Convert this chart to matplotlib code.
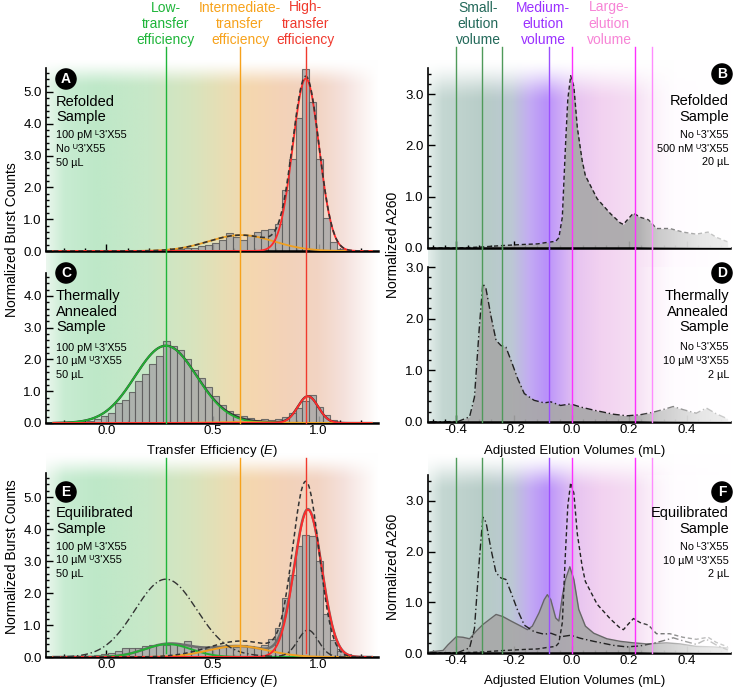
import numpy as np
import matplotlib
matplotlib.use("Agg")
import matplotlib.pyplot as plt
from matplotlib.ticker import MultipleLocator, FormatStrFormatter

plt.rcParams['font.family'] = ['Liberation Sans', 'DejaVu Sans']
plt.rcParams['mathtext.fontset'] = 'custom'
plt.rcParams['mathtext.rm'] = 'Liberation Sans'
plt.rcParams['mathtext.it'] = 'Liberation Sans:italic'
plt.rcParams['mathtext.bf'] = 'Liberation Sans:bold'

W, H = 740, 689

## smFRET histograms (bins of width 0.0328, first left edge -0.1912)
bin_start = -0.1912
bin_width = 0.0328
hist_refolded = [0, 0, 0, 0, 0, 0, 0, 0, 0, 0, 0, 0, 0, 0.02,
                 0.04, 0.05, 0.07, 0.10, 0.10, 0.17, 0.20, 0.25, 0.36, 0.55, 0.44, 0.33, 0.49, 0.60,
                 0.65, 0.70, 0.86, 1.93, 2.90, 4.19, 5.73, 4.68, 2.90, 1.05, 0.28, 0.07, 0.04, 0.0]
hist_annealed = [0.01, 0.02, 0.04, 0.06, 0.12, 0.22, 0.33, 0.62, 0.72, 0.98, 1.32, 1.55, 1.87, 2.12,
                 2.57, 2.42, 2.30, 2.02, 1.68, 1.42, 1.13, 0.84, 0.58, 0.38, 0.28, 0.21, 0.15, 0.10,
                 0.12, 0.10, 0.12, 0.20, 0.32, 0.48, 0.68, 0.88, 0.50, 0.25, 0.08, 0.02, 0.0, 0.0]
hist_equil = [0.0, 0.01, 0.02, 0.04, 0.06, 0.10, 0.14, 0.20, 0.29, 0.29, 0.28, 0.34, 0.36, 0.42,
              0.36, 0.40, 0.38, 0.51, 0.34, 0.31, 0.26, 0.27, 0.31, 0.34, 0.31, 0.36, 0.34, 0.31,
              0.36, 0.57, 0.91, 1.84, 2.55, 3.47, 3.80, 3.78, 3.00, 1.35, 0.52, 0.20, 0.10, 0.03]

## Gaussian fit parameters (center, amplitude, sigma)
fit_refolded = {'orange': (0.635, 0.50, 0.154), 'red': (0.94, 5.42, 0.062)}
fit_annealed = {'green': (0.28, 2.43, 0.145), 'orange': (0.63, 0.03, 0.15), 'red': (0.95, 0.84, 0.048)}
fit_equil = {'green': (0.29, 0.40, 0.11), 'orange': (0.62, 0.34, 0.14), 'red': (0.95, 4.60, 0.065)}

## SEC traces
vol_refolded = [-0.486, -0.394, -0.314, -0.233, -0.164, -0.118, -0.084, -0.055, -0.044, -0.032,
                -0.021, -0.013, -0.003, 0.008, 0.020, 0.037, 0.048, 0.089, 0.135, 0.169, 0.180,
                0.197, 0.215, 0.238, 0.267, 0.295, 0.341, 0.387, 0.433, 0.474, 0.502, 0.542]
a260_refolded = [0.0, 0.0, 0.02, 0.05, 0.07, 0.08, 0.11, 0.13, 0.20, 0.60,
                 2.0, 2.9, 3.36, 3.15, 2.35, 1.70, 1.41, 0.96, 0.67, 0.49, 0.46,
                 0.57, 0.68, 0.60, 0.55, 0.38, 0.38, 0.31, 0.27, 0.31, 0.21, 0.12]
vol_annealed = [-0.492, -0.394, -0.354, -0.337, -0.320, -0.308, -0.297, -0.279, -0.262, -0.245,
                -0.228, -0.210, -0.187, -0.164, -0.130, -0.095, -0.072, -0.038, -0.003, 0.031,
                0.077, 0.146, 0.192, 0.238, 0.284, 0.330, 0.353, 0.387, 0.433, 0.468, 0.502, 0.542]
a260_annealed = [0.0, 0.01, 0.10, 0.48, 1.84, 2.68, 2.58, 2.03, 1.58, 1.48,
                 1.45, 1.19, 0.84, 0.55, 0.42, 0.37, 0.39, 0.32, 0.35, 0.29,
                 0.23, 0.15, 0.12, 0.14, 0.19, 0.26, 0.30, 0.24, 0.17, 0.27, 0.16, 0.06]
vol_equil = [-0.492, -0.446, -0.429, -0.400, -0.377, -0.354, -0.331, -0.308, -0.285, -0.262,
             -0.239, -0.210, -0.176, -0.153, -0.136, -0.113, -0.095, -0.084, -0.072, -0.055,
             -0.044, -0.032, -0.021, -0.006, 0.008, 0.025, 0.048, 0.077, 0.123, 0.169,
             0.215, 0.261, 0.330, 0.376, 0.433, 0.491, 0.542]
a260_equil = [0.02, 0.05, 0.16, 0.32, 0.31, 0.28, 0.43, 0.56, 0.66, 0.76,
              0.72, 0.63, 0.53, 0.46, 0.53, 0.79, 1.05, 1.15, 1.05, 0.69,
              0.63, 1.12, 1.45, 1.70, 1.45, 0.86, 0.53, 0.39, 0.28, 0.23,
              0.20, 0.18, 0.20, 0.18, 0.13, 0.12, 0.10]

## Reference positions
fret_lines = [0.28, 0.63, 0.94]
fret_colors = ['#1fb53a', '#f7a21b', '#f03a2e']
fret_headers = ['Low-\ntransfer\nefficiency', 'Intermediate-\ntransfer\nefficiency', 'High-\ntransfer\nefficiency']
sec_lines = [-0.40, -0.31, -0.24, -0.08, 0.0, 0.22, 0.28]
sec_line_colors = ['#4f9a5a', '#4f9a5a', '#4f9a5a', '#9b50ff', '#ff30ff', '#ff30ff', '#ff8cff']
sec_headers = ['Small-\nelution\nvolume', 'Medium-\nelution\nvolume', 'Large-\nelution\nvolume']
sec_header_colors = ['#23695a', '#9a30ff', '#f784d6']
sec_header_x = [478, 543, 609]

## Background gradients
left_stops = [-0.285, -0.2, -0.05, 0.2, 0.4, 0.55, 0.68, 0.85, 1.0, 1.12, 1.2, 1.28]
left_rgb = [(235, 247, 238), (200, 236, 210), (190, 232, 200), (200, 232, 200), (215, 228, 190),
            (232, 222, 180), (245, 215, 175), (243, 210, 185), (242, 212, 195), (245, 225, 220),
            (250, 240, 238), (255, 255, 255)]
right_stops = [-0.5, -0.45, -0.3, -0.21, -0.15, -0.09, -0.03, 0.02, 0.1, 0.2, 0.28, 0.35, 0.55]
right_rgb = [(228, 238, 235), (196, 215, 210), (183, 204, 199), (188, 200, 212), (195, 172, 242),
             (185, 145, 250), (210, 175, 245), (232, 197, 240), (242, 210, 240), (245, 220, 243),
             (250, 235, 248), (255, 250, 255), (255, 255, 255)]
fade_stops = [-0.5, 0.22, 0.30, 0.45, 0.55]
fade_alpha = [0.0, 0.0, 0.35, 0.7, 0.8]

LXLIM = (-0.285, 1.28)
RXLIM = (-0.5, 0.55)


def gauss(x, c, a, s):
    return a * np.exp(-(x - c) ** 2 / (2 * s ** 2))


def make_axes(x0, x1, ytop, ybot, zorder=1):
    return fig.add_axes([x0 / W, 1 - ybot / H, (x1 - x0) / W, (ybot - ytop) / H], zorder=zorder)


def ftext(px, py, s, **kw):
    fig.text(px / W, 1 - py / H, s, **kw)


def background(x0, x1, ytop, ybot, xlim, stops, rgb, fade_px=30):
    ax = make_axes(x0, x1, ytop, ybot, zorder=0)
    xs = np.linspace(xlim[0], xlim[1], 500)
    cols = np.array([np.interp(xs, stops, [c[i] for c in rgb]) for i in range(3)]).T / 255.0
    ny = 300
    frac = np.linspace(0, 1, ny)
    dist = (1 - frac) * (ybot - ytop)
    alpha = np.clip(dist / fade_px, 0, 1)
    alpha = alpha * alpha * (3 - 2 * alpha)
    img = np.zeros((ny, len(xs), 4))
    img[..., :3] = cols[None, :, :]
    img[..., 3] = alpha[:, None]
    ax.imshow(img, extent=[xlim[0], xlim[1], 0, 1], aspect='auto', origin='lower',
              interpolation='bilinear')
    ax.set_xlim(xlim)
    ax.set_ylim(0, 1)
    ax.axis('off')


def style_axes(ax, xlim, ylim, xmaj, xmin_, show_xlabels):
    ax.set_facecolor('none')
    ax.set_xlim(xlim)
    ax.set_ylim(ylim)
    for side in ['top', 'right']:
        ax.spines[side].set_visible(False)
    ax.spines['left'].set_linewidth(1.2)
    ax.spines['bottom'].set_linewidth(1.8)
    ax.xaxis.set_major_locator(MultipleLocator(xmaj))
    ax.xaxis.set_minor_locator(MultipleLocator(xmin_))
    ax.yaxis.set_major_locator(MultipleLocator(1.0))
    ax.yaxis.set_minor_locator(MultipleLocator(0.2))
    ax.xaxis.set_major_formatter(FormatStrFormatter('%.1f'))
    ax.yaxis.set_major_formatter(FormatStrFormatter('%.1f'))
    ax.tick_params(which='both', direction='in', labelsize=9.5, pad=3, width=1)
    ax.tick_params(axis='x', pad=1.5)
    ax.tick_params(which='major', length=5)
    ax.tick_params(which='minor', length=2.5)
    if not show_xlabels:
        ax.tick_params(axis='x', labelbottom=False)


def vlines(ax, xs, colors, ymin, ymax):
    for x, c in zip(xs, colors):
        ax.axvline(x, ymin=ymin, ymax=ymax, color=c, lw=1.0, clip_on=False, zorder=4)


def hist_panel(ax, heights, fits, total_style):
    centers = bin_start + bin_width * (np.arange(len(heights)) + 0.5)
    ax.bar(centers, heights, width=bin_width, color='#a9a9a9', alpha=0.85,
           edgecolor='#5a5a5a', linewidth=0.8, zorder=2)
    xg = np.linspace(-0.25, 1.25, 800)
    comp_colors = {'green': '#22b033', 'orange': '#f0a020', 'red': '#ff2a2a'}
    total = np.zeros_like(xg)
    for name, (c, a, s) in fits.items():
        total += gauss(xg, c, a, s)
    if total_style == 'solid':
        ax.plot(xg, total, color='#333333', lw=1.6, zorder=2.9)
    for name, (c, a, s) in fits.items():
        ax.plot(xg, gauss(xg, c, a, s), color=comp_colors[name], lw=1.3, zorder=3)
    if total_style == 'dashed':
        ax.plot(xg, total, color='#333333', lw=1.2, ls=(0, (3, 2)), zorder=3.2)


def sec_panel(ax, vol, a260, ls, lcolor='#222222', lw=1.0):
    ax.fill_between(vol, 0, a260, color='#a8a8a8', alpha=0.9, lw=0, zorder=2)
    ax.plot(vol, a260, ls=ls, color=lcolor, lw=lw, zorder=2.3)
    xs = np.linspace(RXLIM[0], RXLIM[1], 400)
    al = np.interp(xs, fade_stops, fade_alpha)
    img = np.ones((2, len(xs), 4))
    img[..., 3] = al[None, :]
    ax.imshow(img, extent=[RXLIM[0], RXLIM[1], 0, ax.get_ylim()[1]], aspect='auto',
              origin='lower', interpolation='bilinear', zorder=2.6)


fig = plt.figure(figsize=(W / 100, H / 100), dpi=100)

# backgrounds
background(46, 378, 58, 423, LXLIM, left_stops, left_rgb, fade_px=30)
background(46, 378, 452, 657, LXLIM, left_stops, left_rgb, fade_px=30)
background(427.5, 730, 58, 422, RXLIM, right_stops, right_rgb, fade_px=45)
background(427.5, 730, 452, 653, RXLIM, right_stops, right_rgb, fade_px=40)

# left column
axA = make_axes(46, 378, 68, 251)
style_axes(axA, LXLIM, (0, 5.75), 0.5, 0.1, False)
hist_panel(axA, hist_refolded, fit_refolded, 'dashed')
vlines(axA, fret_lines, fret_colors, 0, 1 + 21 / 183)

axC = make_axes(46, 378, 273, 423)
style_axes(axC, LXLIM, (0, 4.72), 0.5, 0.1, True)
hist_panel(axC, hist_annealed, fit_annealed, 'solid')
vlines(axC, fret_lines, fret_colors, 0, 1 + 22 / 150)

axE = make_axes(46, 378, 473, 657)
style_axes(axE, LXLIM, (0, 5.75), 0.5, 0.1, True)
xg = np.linspace(-0.25, 1.25, 800)
tot_ref = sum(gauss(xg, *p) for p in fit_refolded.values())
tot_ann = sum(gauss(xg, *p) for p in fit_annealed.values())
tot_eq = sum(gauss(xg, *p) for p in fit_equil.values())
centers = bin_start + bin_width * (np.arange(len(hist_equil)) + 0.5)
axE.bar(centers, hist_equil, width=bin_width, color='#a9a9a9', alpha=0.85,
        edgecolor='#5a5a5a', linewidth=0.8, zorder=2)
axE.plot(xg, tot_eq, color='#6e6e6e', lw=1.8, zorder=3)
for name, col in [('green', '#22b033'), ('orange', '#f0a020'), ('red', '#ff2a2a')]:
    axE.plot(xg, gauss(xg, *fit_equil[name]), color=col, lw=1.4, zorder=3.1)
axE.plot(xg, tot_ref, color='#333333', lw=1.1, ls=(0, (3, 2)), zorder=3.2)
axE.plot(xg, tot_ann, color='#333333', lw=1.0, ls=(0, (5, 2, 1, 2)), zorder=3.2)
vlines(axE, fret_lines, fret_colors, 4 / 184, 1 + 15 / 184)

# right column
axB = make_axes(427.5, 730, 68, 248)
style_axes(axB, RXLIM, (0, 3.51), 0.2, 0.04, False)
sec_panel(axB, vol_refolded, a260_refolded, (0, (3, 2)))
vlines(axB, sec_lines, sec_line_colors, 0, 1 + 21 / 180)

axD = make_axes(427.5, 730, 267, 422)
style_axes(axD, RXLIM, (0, 3.0), 0.2, 0.04, True)
sec_panel(axD, vol_annealed, a260_annealed, (0, (5, 2, 1, 2)))
vlines(axD, sec_lines, sec_line_colors, 0, 1 + 19 / 155)

axF = make_axes(427.5, 730, 475, 653)
style_axes(axF, RXLIM, (0, 3.51), 0.2, 0.04, True)
axF.plot(vol_refolded, a260_refolded, ls=(0, (3, 2)), color='#222222', lw=1.0, zorder=2.4)
axF.plot(vol_annealed, a260_annealed, ls=(0, (5, 2, 1, 2)), color='#222222', lw=1.0, zorder=2.4)
sec_panel(axF, vol_equil, a260_equil, '-', lcolor='#666666', lw=1.0)
vlines(axF, sec_lines, sec_line_colors, 0, 1 + 17 / 178)

# headers
for x, s, c in zip(fret_lines, fret_headers, fret_colors):
    px = 106.7 + 211.6 * x
    ftext(px, 0.5, s, color=c, ha='center', va='top', size=10, linespacing=1.2)
for px, s, c in zip(sec_header_x, sec_headers, sec_header_colors):
    ftext(px, 0.5, s, color=c, ha='center', va='top', size=10, linespacing=1.2)

# axis labels
ftext(12, 240, 'Normalized Burst Counts', rotation=90, ha='center', va='center', size=10)
ftext(12, 557, 'Normalized Burst Counts', rotation=90, ha='center', va='center', size=10)
ftext(393, 245, 'Normalized A260', rotation=90, ha='center', va='center', size=10)
ftext(393, 567, 'Normalized A260', rotation=90, ha='center', va='center', size=10)
ftext(212, 451, 'Transfer Efficiency ($E$)', ha='center', va='center', size=9.5)
ftext(212, 681, 'Transfer Efficiency ($E$)', ha='center', va='center', size=9.5)
ftext(575, 451, 'Adjusted Elution Volumes (mL)', ha='center', va='center', size=9.5)
ftext(575, 681, 'Adjusted Elution Volumes (mL)', ha='center', va='center', size=9.5)

# panel letters
circle = dict(boxstyle='circle,pad=0.22', fc='black', ec='black')
for px, py, s in [(66, 79, 'A'), (66, 273, 'C'), (66, 492, 'E'),
                  (722, 74, 'B'), (722, 273, 'D'), (722, 492, 'F')]:
    ftext(px, py, s, ha='center', va='center', color='white', weight='bold', size=10, bbox=circle)

# sample annotations
L = "\u1d38"
U = "\u1d41"
left_notes = [
    (['Refolded', 'Sample'], [106, 121], ['100 pM ' + L + "3'X55", 'No ' + U + "3'X55", '50 µL'], [138, 152, 166]),
    (['Thermally', 'Annealed', 'Sample'], [300, 316, 331], ['100 pM ' + L + "3'X55", '10 µM ' + U + "3'X55", '50 µL'], [351, 364, 378]),
    (['Equilibrated', 'Sample'], [517, 533], ['100 pM ' + L + "3'X55", '10 µM ' + U + "3'X55", '50 µL'], [550, 563, 577]),
]
right_notes = [
    (['Refolded', 'Sample'], [105, 121], ['No ' + L + "3'X55", '500 nM ' + U + "3'X55", '20 µL'], [138, 152, 165]),
    (['Thermally', 'Annealed', 'Sample'], [300, 316, 331], ['No ' + L + "3'X55", '10 µM ' + U + "3'X55", '2 µL'], [350, 364, 378]),
    (['Equilibrated', 'Sample'], [517, 533], ['No ' + L + "3'X55", '10 µM ' + U + "3'X55", '2 µL'], [550, 564, 577]),
]
for big, by, small, sy in left_notes:
    for s, y in zip(big, by):
        ftext(56, y, s, ha='left', va='baseline', size=10.5)
    for s, y in zip(small, sy):
        ftext(56, y, s, ha='left', va='baseline', size=7.8)
for big, by, small, sy in right_notes:
    for s, y in zip(big, by):
        ftext(729, y, s, ha='right', va='baseline', size=10.5)
    for s, y in zip(small, sy):
        ftext(729, y, s, ha='right', va='baseline', size=7.8)

fig.savefig('out.png', dpi=100)
